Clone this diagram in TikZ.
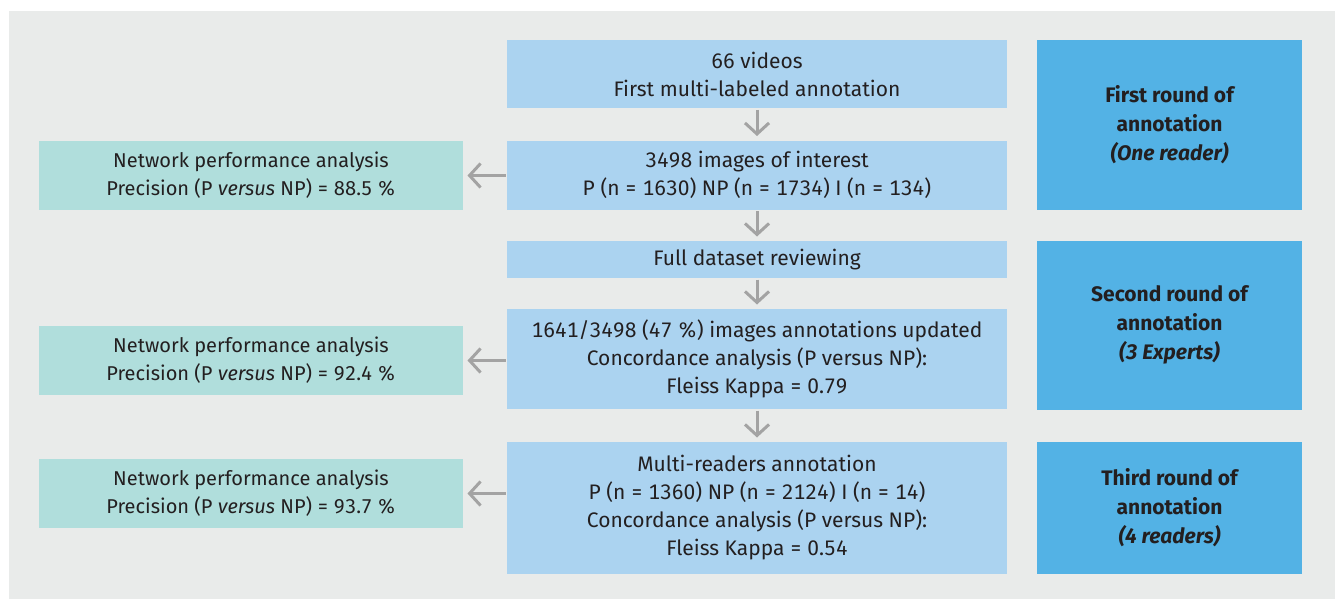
\documentclass[tikz,border=0pt]{standalone}
\usepackage{fontspec}
\setmainfont[Numbers=Monospaced]{Fira Sans}
\usetikzlibrary{arrows.meta}

\definecolor{bggray}{HTML}{E9EBEA}
\definecolor{stageblue}{HTML}{ABD3F0}
\definecolor{netgreen}{HTML}{B0DEDC}
\definecolor{roundblue}{HTML}{53B2E5}
\definecolor{arrowgray}{HTML}{A3A3A3}
\definecolor{inkdark}{HTML}{231F20}

\begin{document}
\begin{tikzpicture}[x=1pt, y=-1pt, >={Straight Barb[length=11pt,width=24pt,line width=3pt]}, line width=3pt,
  stage/.style={fill=stageblue, inner sep=0pt, align=center, minimum width=500pt, text=inkdark, font=\fontsize{21}{28}\selectfont},
  net/.style={fill=netgreen, inner sep=0pt, align=center, minimum width=424pt, minimum height=69pt, text=inkdark, font=\fontsize{20}{28}\selectfont},
  round/.style={fill=roundblue, inner sep=0pt, align=center, minimum width=265pt, text=inkdark, font=\bfseries\fontsize{21}{29}\selectfont},
  flow/.style={->, draw=arrowgray, shorten >=3pt}]

% Background
\useasboundingbox (0,0) rectangle (1335,599);
\fill[bggray] (9,11) rectangle (1335,599);

% Central column
\node[stage, minimum height=68pt] (videos) at (757,74.5) {66 videos\\First multi-labeled annotation};
\node[stage, minimum height=69pt] (interest) at (757,175) {3498 images of interest\\P (n = 1630) NP (n = 1734) I (n = 134)};
\node[stage, minimum height=37pt] (review) at (757,259.5) {Full dataset reviewing};
\node[stage, minimum height=100pt] (updated) at (757,359) {1641/3498 (47 \%) images annotations updated\\Concordance analysis (P versus NP):\\Fleiss Kappa = 0.79};
\node[stage, minimum height=132pt] (readers) at (757,508) {Multi-readers annotation\\P (n = 1360) NP (n = 2124) I (n = 14)\\Concordance analysis (P versus NP):\\Fleiss Kappa = 0.54};

% Network performance boxes
\node[net] (perfA) at (251,175.5) {Network performance analysis\\Precision (P \textit{versus} NP) = 88.5 \%};
\node[net] (perfB) at (251,360.5) {Network performance analysis\\Precision (P \textit{versus} NP) = 92.4 \%};
\node[net] (perfC) at (251,493.5) {Network performance analysis\\Precision (P \textit{versus} NP) = 93.7 \%};

% Annotation rounds
\node[round, minimum height=169pt] (roundA) at (1169.5,125) {First round of\\annotation\\\textit{(One reader)}};
\node[round, minimum height=169pt] (roundB) at (1169.5,325) {Second round of\\annotation\\\textit{(3 Experts)}};
\node[round, minimum height=132pt] (roundC) at (1169.5,508) {Third round of\\annotation\\\textit{(4 readers)}};

% Arrows down the column
\draw[flow] (videos) -- (interest);
\draw[flow] (interest) -- (review);
\draw[flow] (review) -- (updated);
\draw[flow] (updated) -- (readers);

% Arrows to the left
\draw[flow] (interest.west |- perfA.east) -- (perfA.east);
\draw[flow] (updated.west |- perfB.east) -- (perfB.east);
\draw[flow] (readers.west |- perfC.east) -- (perfC.east);

\end{tikzpicture}
\end{document}
